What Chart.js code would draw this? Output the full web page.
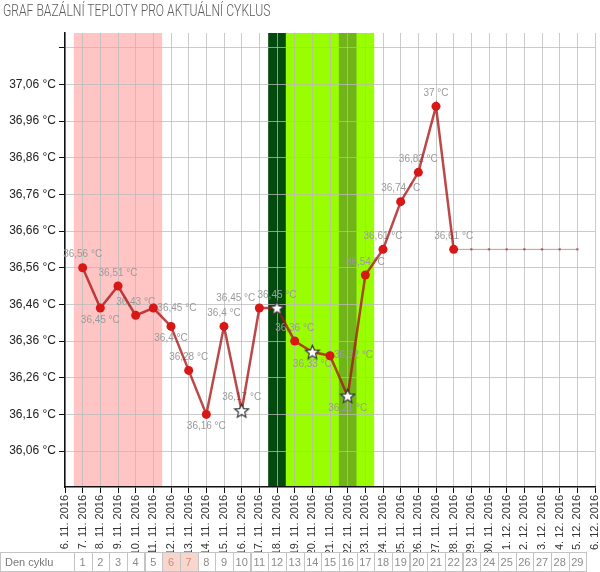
<!DOCTYPE html>
<html lang="cs">
<head>
<meta charset="utf-8">
<title>Graf bazální teploty</title>
<script src="https://cdn.jsdelivr.net/npm/chart.js@4.4.1/dist/chart.umd.min.js"></script>
<style>
    html, body { margin: 0; padding: 0; background: #fff; }
    #wrap  { position: relative; width: 600px; height: 572px; }
    #title {
        position: absolute; left: 3px; top: 1px;
        font: 300 16px Roboto, sans-serif; color: #5a5a5a;
        white-space: nowrap; transform-origin: 0 0;
    }
    canvas { display: block; }
</style>
</head>
<body>
<div id="wrap">
    <canvas id="bbt" width="600" height="572"></canvas>
    <div id="title">GRAF BAZÁLNÍ TEPLOTY PRO AKTUÁLNÍ CYKLUS</div>
</div>

<script>
/* ─── bbt-chart.js ───────────────────────────────────────────── */

/* ── Data ────────────────────────────────────────────────────── */
const DATES = [
    '6. 11. 2016',  '7. 11. 2016',  '8. 11. 2016',  '9. 11. 2016',  '10. 11. 2016',
    '11. 11. 2016', '12. 11. 2016', '13. 11. 2016', '14. 11. 2016', '15. 11. 2016',
    '16. 11. 2016', '17. 11. 2016', '18. 11. 2016', '19. 11. 2016', '20. 11. 2016',
    '21. 11. 2016', '22. 11. 2016', '23. 11. 2016', '24. 11. 2016', '25. 11. 2016',
    '26. 11. 2016', '27. 11. 2016', '28. 11. 2016', '29. 11. 2016', '30. 11. 2016',
    '1. 12. 2016',  '2. 12. 2016',  '3. 12. 2016',  '4. 12. 2016',  '5. 12. 2016',
    '6. 12. 2016',
];

const CYCLE_DAYS = [
    null, 1, 2, 3, 4, 5, 6, 7, 8, 9, 10, 11, 12, 13, 14, 15,
    16, 17, 18, 19, 20, 21, 22, 23, 24, 25, 26, 27, 28, 29, null,
];

const TEMPS = [
    null,  36.56, 36.45, 36.51, 36.43, 36.45, 36.4,  36.28, 36.16, 36.4,  36.17,
    36.45, 36.45, 36.36, 36.33, 36.32, 36.21, 36.54, 36.61, 36.74, 36.82, 37,
    36.61, null,  null,  null,  null,  null,  null,  null,  null,
];

/* flat projection of the last reading up to the expected end of cycle */
const PROJECTION = [
    null,  null,  null,  null,  null,  null,  null,  null,  null,  null,  null,
    null,  null,  null,  null,  null,  null,  null,  null,  null,  null,  null,
    36.61, 36.61, 36.61, 36.61, 36.61, 36.61, 36.61, 36.61, null,
];

/* days marked with a star */
const MARKED = ['16. 11. 2016', '18. 11. 2016', '20. 11. 2016', '22. 11. 2016'];

/* cycle-day ranges shaded behind the plot */
const PERIOD_DAYS    = [1, 5];
const FERTILE_DAYS   = [13, 17];
const OVULATION_DAYS = [12, 12];
const PEAK_DAYS      = [16, 16];
const SPOTTING_DAYS  = [6, 7];     // pink cells in the bottom row

const Y_TICKS       = [36.06, 36.16, 36.26, 36.36, 36.46, 36.56, 36.66, 36.76, 36.86, 36.96, 37.06, 37.16];
const Y_TICK_LABELS = ['36,06 °C', '36,16 °C', '36,26 °C', '36,36 °C', '36,46 °C', '36,56 °C',
                       '36,66 °C', '36,76 °C', '36,86 °C', '36,96 °C', '37,06 °C', ''];

/* where each value label sits relative to its point */
const LABEL_POS = [
    null, 'top', 'bottom', 'top', 'top', 'right', 'bottom', 'top', 'bottom', 'top', 'top',
    'topleft', 'top', 'top', 'bottom', 'right', 'bottom', 'top', 'top', 'top', 'top', 'top',
    'top',
];

const FONT = '"Liberation Sans", Arial, sans-serif';

/* ── Star marker ─────────────────────────────────────────────── */
function makeStar(size) {
    const c = document.createElement('canvas');
    c.width = c.height = size;
    const g = c.getContext('2d');
    const cx = size / 2, cy = size / 2 + 0.5;
    const ro = size / 2 - 1.2, ri = ro * 0.45;
    g.beginPath();
    for (let i = 0; i < 10; i++) {
        const r = i % 2 ? ri : ro;
        const a = -Math.PI / 2 + i * Math.PI / 5;
        g.lineTo(cx + r * Math.cos(a), cy + r * Math.sin(a));
    }
    g.closePath();
    g.fillStyle = '#fff';
    g.fill();
    g.lineWidth = 1.2;
    g.strokeStyle = '#333';
    g.stroke();
    return c;
}
const STAR = makeStar(17);

const fmt = v => String(v).replace('.', ',') + ' °C';

/* ── Shaded bands ────────────────────────────────────────────── */
const bandsPlugin = {
    id: 'bands',
    beforeDraw(chart) {
        const { ctx, chartArea: a, scales: { x } } = chart;
        const step = x.getPixelForValue(1) - x.getPixelForValue(0);
        const band = (range, color) => {
            const x0 = x.getPixelForValue(CYCLE_DAYS.indexOf(range[0])) - step / 2;
            const x1 = x.getPixelForValue(CYCLE_DAYS.indexOf(range[1])) + step / 2;
            ctx.fillStyle = color;
            ctx.fillRect(x0, a.top, x1 - x0, a.bottom - a.top);
        };
        ctx.save();
        band(PERIOD_DAYS,    '#ffc5c5');
        band(FERTILE_DAYS,   '#99ff00');
        band(OVULATION_DAYS, '#024a0e');
        band(PEAK_DAYS,      '#70b41a');
        ctx.restore();
    },
};

/* ── Value labels (drawn under the line) ─────────────────────── */
const labelsPlugin = {
    id: 'valueLabels',
    beforeDatasetsDraw(chart) {
        const ctx  = chart.ctx;
        const meta = chart.getDatasetMeta(0);
        ctx.save();
        ctx.font = '10px ' + FONT;
        ctx.fillStyle = '#9a9a9a';
        TEMPS.forEach((v, i) => {
            if (v == null) return;
            const p = meta.data[i];
            const pos = LABEL_POS[i] || 'top';
            const t = fmt(v);
            if (pos === 'top') {
                ctx.textAlign = 'center'; ctx.textBaseline = 'middle';
                ctx.fillText(t, p.x, p.y - 13);
            } else if (pos === 'bottom') {
                ctx.textAlign = 'center'; ctx.textBaseline = 'middle';
                ctx.fillText(t, p.x, p.y + 12);
            } else if (pos === 'right') {
                ctx.textAlign = 'left'; ctx.textBaseline = 'middle';
                ctx.fillText(t, p.x + 4, p.y);
            } else {
                ctx.textAlign = 'right'; ctx.textBaseline = 'middle';
                ctx.fillText(t, p.x - 4, p.y - 10);
            }
        });
        ctx.restore();
    },
};

/* ── "Den cyklu" row ─────────────────────────────────────────── */
const ROW_H = 20;
const cycleRowPlugin = {
    id: 'cycleRow',
    afterDraw(chart) {
        const { ctx, scales: { x } } = chart;
        const step = x.getPixelForValue(1) - x.getPixelForValue(0);
        const top  = chart.height - ROW_H + 0.5;
        const h    = ROW_H - 1;
        ctx.save();
        ctx.font = '11px ' + FONT;
        ctx.textBaseline = 'middle';
        ctx.lineWidth = 1;
        ctx.strokeStyle = '#c4c4c4';

        const firstLeft = Math.round(x.getPixelForValue(1) - step / 2) + 0.5;
        ctx.strokeRect(0.5, top, firstLeft - 0.5, h);
        ctx.fillStyle = '#777';
        ctx.textAlign = 'left';
        ctx.fillText('Den cyklu', 5, top + h / 2 + 1);

        CYCLE_DAYS.forEach((d, i) => {
            if (d == null) return;
            const cx = x.getPixelForValue(i);
            const x0 = Math.round(cx - step / 2) + 0.5;
            const x1 = Math.round(cx + step / 2) + 0.5;
            const spot = d >= SPOTTING_DAYS[0] && d <= SPOTTING_DAYS[1];
            if (spot) {
                ctx.fillStyle = '#f8d6cd';
                ctx.fillRect(x0, top, x1 - x0, h);
            }
            ctx.strokeRect(x0, top, x1 - x0, h);
            ctx.fillStyle = spot ? '#d08a7c' : '#8a8a8a';
            ctx.textAlign = 'center';
            ctx.fillText(String(d), cx, top + h / 2 + 1);
        });
        ctx.restore();
    },
};

/* ── Chart ───────────────────────────────────────────────────── */
const GRID = 'rgba(185,185,185,0.75)';

new Chart(document.getElementById('bbt'), {
    type: 'line',
    data: {
        labels: DATES,
        datasets: [
            {
                data: TEMPS,
                borderColor: 'rgba(170,20,20,0.78)',
                borderWidth: 2.5,
                tension: 0,
                spanGaps: false,
                pointRadius: 4.5,
                pointBorderWidth: 0,
                pointBackgroundColor: '#d81717',
                pointStyle: c => MARKED.includes(DATES[c.dataIndex]) ? STAR : 'circle',
            },
            {
                data: PROJECTION,
                borderColor: 'rgba(200,70,70,0.6)',
                borderWidth: 1,
                tension: 0,
                pointRadius: c => c.dataIndex === TEMPS.findLastIndex(v => v != null) ? 0 : 1.3,
                pointBorderWidth: 0,
                pointBackgroundColor: 'rgba(170,70,70,0.7)',
            },
        ],
    },
    options: {
        responsive: false,
        animation: false,
        events: [],
        layout: { padding: { top: 33, right: 5, bottom: ROW_H, left: 0 } },
        plugins: {
            legend:  { display: false },
            tooltip: { enabled: false },
            title:   { display: false },
        },
        scales: {
            x: {
                type: 'category',
                offset: false,
                grid:   { color: GRID, tickColor: '#111', tickLength: 6, lineWidth: 1 },
                border: { color: '#111', width: 1.5 },
                ticks:  {
                    autoSkip: false, minRotation: 90, maxRotation: 90, padding: 2,
                    color: '#333', font: { size: 11, family: FONT },
                },
                afterFit: s => { s.height = 65; s.paddingLeft = 0; s.paddingRight = 0; },
            },
            y: {
                min: 35.962,
                max: 37.2,
                afterBuildTicks: s => { s.ticks = Y_TICKS.map(v => ({ value: v })); },
                grid:   { color: GRID, tickColor: '#111', tickLength: 6, lineWidth: 1 },
                border: { color: '#111', width: 1.5 },
                ticks:  {
                    padding: 3, color: '#222', font: { size: 12, family: FONT },
                    callback: (v, i) => Y_TICK_LABELS[i],
                },
                afterFit: s => { s.width = 65; s.paddingTop = 0; s.paddingBottom = 0; },
            },
        },
    },
    plugins: [bandsPlugin, labelsPlugin, cycleRowPlugin],
});

/* squeeze the title into the width it has in the original */
(function () {
    const t = document.getElementById('title');
    t.style.transform = 'scaleX(' + (267 / t.offsetWidth).toFixed(3) + ')';
})();
</script>
</body>
</html>
